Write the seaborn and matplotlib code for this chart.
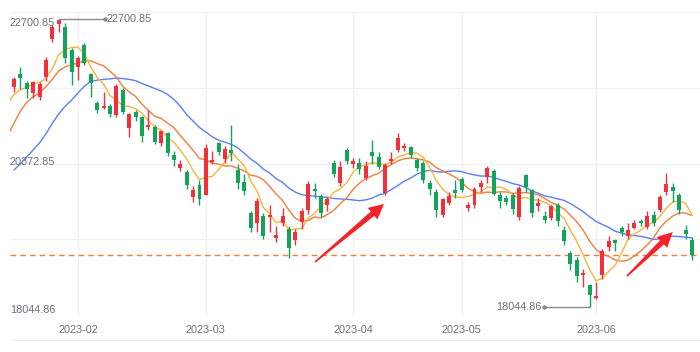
import numpy as np
import pandas as pd
import matplotlib
matplotlib.use("Agg")
import matplotlib.pyplot as plt
import matplotlib.transforms as mtransforms
from matplotlib.lines import Line2D
from matplotlib.patches import Polygon
import seaborn as sns

# daily candles, 2023-01-13 .. 2023-06-23
dates = ["01-13", "01-16", "01-17", "01-18", "01-19", "01-20", "01-26", "01-27", "01-30", "01-31",
         "02-01", "02-02", "02-03", "02-06", "02-07", "02-08", "02-09", "02-10", "02-13", "02-14",
         "02-15", "02-16", "02-17", "02-20", "02-21", "02-22", "02-23", "02-24", "02-27", "02-28",
         "03-01", "03-02", "03-03", "03-06", "03-07", "03-08", "03-09", "03-10", "03-13", "03-14",
         "03-15", "03-16", "03-17", "03-20", "03-21", "03-22", "03-23", "03-24", "03-27", "03-28",
         "03-29", "03-30", "03-31", "04-03", "04-04", "04-06", "04-11", "04-12", "04-13", "04-14",
         "04-17", "04-18", "04-19", "04-20", "04-21", "04-24", "04-25", "04-26", "04-27", "04-28",
         "05-02", "05-03", "05-04", "05-05", "05-08", "05-09", "05-10", "05-11", "05-12", "05-15",
         "05-16", "05-17", "05-18", "05-19", "05-22", "05-23", "05-24", "05-25", "05-29", "05-30",
         "05-31", "06-01", "06-02", "06-05", "06-06", "06-07", "06-08", "06-09", "06-12", "06-13",
         "06-14", "06-15", "06-16", "06-19", "06-20", "06-21", "06-23"]
dates = ["2023-" + d for d in dates]

open_ = [21602, 21812, 21667, 21505, 21440, 21763, 22378, 22620, 22572, 22200,
         21925, 22280, 21812, 21343, 21260, 21300, 21150, 21553, 20938, 21200,
         21117, 20960, 20955, 20696, 20858, 20502, 20300, 20227, 19823, 20017,
         19855, 20390, 20696, 20440, 20583, 20260, 20066, 19564, 19400, 19520,
         19500, 19160, 19403, 19300, 19128, 19418, 19612, 19950, 19840, 19692,
         20372, 20050, 20580, 20350, 20373, 20130, 20550, 20470, 19888, 20400,
         20583, 20620, 20630, 20420, 20373, 20050, 19904, 19532, 19726, 19930,
         20114, 19650, 19694, 19980, 20150, 20243, 19850, 19800, 19855, 19500,
         20179, 19936, 19680, 19515, 19483, 19694, 19290, 18917, 18804, 18560,
         18400, 18190, 18562, 19015, 19120, 19320, 19190, 19320, 19440, 19338,
         19532, 19613, 19904, 19985, 19856, 19290, 19130]
close = [21738, 21746, 21577, 21678, 21650, 22044, 22566, 22689, 22069, 21842,
         22072, 21990, 21660, 21222, 21298, 21160, 21624, 21190, 21164, 21113,
         20812, 20987, 20719, 20886, 20529, 20423, 20351, 20010, 19943, 19786,
         20619, 20429, 20550, 20603, 20534, 20051, 19925, 19320, 19760, 19200,
         19540, 19204, 19519, 19001, 19259, 19591, 20030, 19916, 19568, 19785,
         20192, 20309, 20400, 20409, 20274, 20331, 20485, 20310, 20344, 20439,
         20777, 20650, 20502, 20292, 20098, 19960, 19618, 19790, 19840, 19895,
         19934, 19699, 19949, 20050, 20297, 19868, 19762, 19744, 19627, 19971,
         19978, 19561, 19727, 19451, 19678, 19431, 19116, 18747, 18551, 18596,
         18234, 18217, 18950, 19109, 19080, 19252, 19290, 19403, 19404, 19521,
         19408, 19829, 20040, 19913, 19607, 19218, 18889.97]
low = [21521, 21570, 21424, 21424, 21391, 21700, 22330, 22490, 21990, 21634,
       21715, 21950, 21440, 21180, 21250, 21120, 21120, 21160, 20790, 21050,
       20712, 20900, 20680, 20650, 20485, 20330, 20250, 19950, 19750, 19700,
       19850, 20350, 20500, 20380, 20400, 19950, 19850, 19250, 19250, 19150,
       19250, 19100, 19350, 18836, 19050, 19300, 19550, 19800, 19500, 19600,
       20150, 20000, 20350, 20300, 20200, 20100, 20350, 20280, 19850, 20350,
       20550, 20560, 20450, 20250, 20050, 19850, 19500, 19500, 19700, 19800,
       19900, 19600, 19650, 19900, 20050, 19850, 19650, 19700, 19550, 19450,
       19900, 19500, 19600, 19400, 19450, 19350, 19050, 18650, 18450, 18370,
       18044.86, 18170, 18500, 18950, 18950, 19200, 19150, 19300, 19350, 19300,
       19350, 19580, 19850, 19750, 19550, 19150, 18800]
high = [21760, 21925, 21700, 21700, 21680, 22080, 22600, 22700.85, 22636, 22230,
        22100, 22313, 21830, 21370, 21520, 21320, 21650, 21580, 21180, 21230,
        21130, 21230, 20980, 20900, 20880, 20560, 20420, 20260, 20000, 20100,
        20680, 20560, 20720, 20650, 20987, 20350, 20200, 19600, 19800, 19560,
        19700, 19350, 19650, 19350, 19300, 19650, 20080, 20050, 19870, 19820,
        20420, 20400, 20620, 20450, 20450, 20400, 20745, 20550, 20380, 20550,
        20858, 20700, 20650, 20450, 20400, 20100, 19950, 19800, 19900, 20100,
        20150, 19750, 19980, 20100, 20330, 20280, 19900, 19850, 19880, 20000,
        20200, 19950, 19800, 19600, 19700, 19720, 19350, 18950, 18850, 18660,
        18420, 18450, 18980, 19200, 19150, 19350, 19400, 19450, 19460, 19600,
        19600, 19850, 20210, 20050, 19880, 19370, 19180]

# closes of the 19 sessions before the window, only needed to start the MAs
warmup_close = [19673, 19369, 19450, 19353, 19095, 19160, 19679, 19593, 19899, 19741,
                19781, 20145, 20793, 21052, 20992, 21388, 21331, 21436, 21514]

month_ticks = ["2023-02-01", "2023-03-01", "2023-04-03", "2023-05-02", "2023-06-01"]
month_labels = ["2023-02", "2023-03", "2023-04", "2023-05", "2023-06"]

UP = "#f0313a"
DOWN = "#13a35b"
GREY = "#6e7079"

df = pd.DataFrame({"date": dates, "open": open_, "close": close, "low": low, "high": high})
df["i"] = np.arange(len(df))

# moving averages over the full close history
allc = pd.Series(warmup_close + close, dtype=float)
ma = pd.DataFrame({"i": np.arange(-len(warmup_close), len(close))})
for n in (5, 10, 20):
    ma[f"MA{n}"] = allc.rolling(n).mean().values
ma = ma[ma["i"] >= -1]

sns.set_theme(style="white")
plt.rcParams["font.family"] = ["Liberation Sans", "DejaVu Sans"]

fig = plt.figure(figsize=(7.0, 3.52), dpi=100)
ax = fig.add_axes([10 / 700, 37 / 352, 690 / 700, 303 / 352])

ylo, yhi = 17915.0, 22814.5
ax.set_ylim(ylo, yhi)
ax.set_xlim(-0.63, 107.26)

# grid
ax.set_yticks(np.linspace(ylo, yhi, 5))
ax.set_yticklabels([])
tick_idx = [dates.index(d) for d in month_ticks]
ax.set_xticks(tick_idx)
ax.set_xticklabels(month_labels)
ax.grid(True, color="#f1f1f1", lw=1)
ax.tick_params(axis="both", length=0)
ax.tick_params(axis="x", pad=7, labelsize=7.8, labelcolor=GREY)
for s in ax.spines.values():
    s.set_visible(False)

# MA lines
sns.lineplot(data=ma, x="i", y="MA20", ax=ax, color="#5b7ef5", lw=1, zorder=3)
sns.lineplot(data=ma, x="i", y="MA10", ax=ax, color="#f47c3c", lw=1, zorder=3)
sns.lineplot(data=ma, x="i", y="MA5", ax=ax, color="#f9b43a", lw=1, zorder=3)

# candles
up = df["close"] >= df["open"]
cols = np.where(up, UP, DOWN)
body_lo = np.minimum(df["open"], df["close"])
body_h = np.maximum(np.abs(df["close"] - df["open"]), 14)
ax.vlines(df["i"], df["low"], df["high"], colors=cols, lw=1, zorder=4)
ax.bar(df["i"], body_h, bottom=body_lo, width=0.62, color=cols, lw=0, zorder=5)

ax.set_xlabel("")
ax.set_ylabel("")

# last close line
last = close[-1]
ax.axhline(last, color="#f47c3c", lw=1, ls=(0, (4, 3)), zorder=2)

# y labels (min / mid / max)
ymax_v, ymin_v = max(high), min(low)
ymid_v = (ymax_v + ymin_v) / 2
tr = ax.get_yaxis_transform()
for v, dy in [(ymax_v, -3), (ymid_v, 1), (ymin_v, -2)]:
    t = mtransforms.offset_copy(tr, fig=fig, x=0, y=dy, units="points")
    ax.text(0.0, v, f"{v:.2f}", transform=t, ha="left", va="center",
            fontsize=7.8, color=GREY, zorder=6)

# max / min markers
imax = int(np.argmax(high))
imin = int(np.argmin(low))
ax.plot([imax, imax + 7.2], [ymax_v, ymax_v], color="#8a8a8a", lw=1, zorder=6)
ax.plot([imax + 7.2], [ymax_v], "o", ms=2.2, color="#8a8a8a", zorder=6)
ax.text(imax + 7.5, ymax_v, f"{ymax_v:.2f}", ha="left", va="center", fontsize=7.8, color=GREY)
ax.plot([imin, imin - 7.2], [ymin_v, ymin_v], color="#8a8a8a", lw=1, zorder=6)
ax.plot([imin - 7.2], [ymin_v], "o", ms=2.2, color="#8a8a8a", zorder=6)
ax.text(imin - 7.5, ymin_v, f"{ymin_v:.2f}", ha="right", va="center", fontsize=7.8, color=GREY)


def red_arrow(tail, tip):
    p0 = ax.transData.transform(tail)
    p1 = ax.transData.transform(tip)
    d = p1 - p0
    L = np.hypot(*d)
    u = d / L
    n = np.array([-u[1], u[0]])
    hl, hw = 15.0, 7.5
    base = p1 - u * hl
    pts = [p0 + n * 0.8, base + n * 2.8, base + n * hw, p1,
           base - n * hw, base - n * 2.8, p0 - n * 0.8]
    fig.patches.append(Polygon(pts, closed=True, transform=None, fc="#f2242a", ec="none", zorder=10))


red_arrow((47.06, 18772), (57.86, 19710))
red_arrow((95.85, 18545), (103.0, 19257))

# faint base line under the axis labels
fig.add_artist(Line2D([10 / 700, 1.0], [12 / 352, 12 / 352], color="#f0f0f0", lw=1))

fig.savefig("out.png", dpi=100)
